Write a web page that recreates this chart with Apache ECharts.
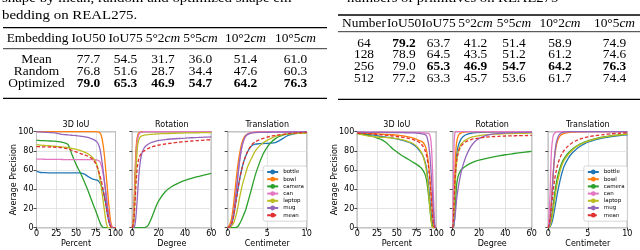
<!DOCTYPE html>
<html><head><meta charset="utf-8">
<script src="https://cdn.jsdelivr.net/npm/echarts@6/dist/echarts.min.js"></script>
<style>html,body{margin:0;padding:0;background:#fff}#c{width:640px;height:250px}</style>
</head><body><div id="c"></div>
<script>
// ---------- categories / colours ----------
const cats = ['bottle','bowl','camera','can','laptop','mug','mean'];
const catColors = ['#1f77b4','#ff7f0e','#2ca02c','#e377c2','#bcbd22','#9467bd','#e0302f'];

// ---------- tables ----------
const leftCaption1 = 'shape by mean, random and optimized shape em-';
const leftCaption2 = 'bedding on REAL275.';
const rightCaption = 'numbers of primitives on REAL275';
const metricHeads = ['IoU50','IoU75','5°2','5°5','10°2','10°5'];
const metricItalic = ['','','cm','cm','cm','cm'];
const leftRows = ['Mean','Random','Optimized'];
const leftVals = [[77.7,54.5,31.7,36.0,51.4,61.0],[76.8,51.6,28.7,34.4,47.6,60.3],[79.0,65.3,46.9,54.7,64.2,76.3]];
const rightRows = ['64','128','256','512'];
const rightVals = [[79.2,63.7,41.2,51.4,58.9,74.9],[78.9,64.5,43.5,51.2,61.2,74.6],[79.0,65.3,46.9,54.7,64.2,76.3],[77.2,63.3,45.7,53.6,61.7,74.4]];

// ---------- plot ticks ----------
const pctTicks = [0,100,25];
const degTicks = [0,60,20];
const cmTicks = [0,10,5];

// ---------- left figure: 3D IoU ----------
const iouL_x = [0,5,10,15,20,25,30,35,40,45,50,55,60,65,70,74,77,80,82,84,86,88,90,92,94,96,100];
const iouL_bottle = [59,57.5,57.3,57.2,57.2,57.2,57.2,57.2,57.2,57.2,57.2,57,56,53.5,51,50,49.5,47,44,39,32,23,13,5,1,0,0];
const iouL_bowl = [100,100,100,100,100,100,100,100,100,100,100,100,100,100,100,100,99.8,99,96,88,75,57,38,20,6,0.5,0];
const iouL_camera = [91,90.8,90.6,90.4,90.2,90,89.5,88.5,86.5,76,66,58,49,39,28,19.5,13,6,2.5,0.5,0,0,0,0,0,0,0];
const iouL_can = [71.5,71.4,71.3,71.2,71.2,71.1,71.1,71,71,71,71,71,71,71,71,70.8,70.3,69,65,58,48,36,22,10,3,0,0];
const iouL_laptop = [86.5,86,85.7,85.4,85,84.7,84.3,84,83.5,82.5,81.5,80.5,79,77,74,70,64,52,42,30,18,6,0.5,0,0,0,0];
const iouL_mug = [100,99.8,99.5,99.2,99,98.5,97.5,97,96.7,96.3,96,95.5,94.8,94,92.5,91,89,83,74,62,48,33,19,7,1,0,0];
const iouL_mean = [84.5,84.3,84.2,84.1,84,83.8,83.5,83,82,80.5,79,77.5,76,74.5,72,68,63,55,49,41,32,23,13,5,1,0,0];

// ---------- left figure: Rotation ----------
const rotL_x = [0,1,2,3,4,5,6,7,8,9,10,12,14,16,18,20,25,30,35,40,45,50,55,60];
const rotL_bottle = [0,10,45,80,94,98,99.3,99.7,100,100,100,100,100,100,100,100,100,100,100,100,100,100,100,100];
const rotL_bowl = [0,15,55,85,96,99,99.7,100,100,100,100,100,100,100,100,100,100,100,100,100,100,100,100,100];
const rotL_camera = [0,0,0,0,0,0,0,0,0,0,0.3,2.5,8,15,22,28,37.5,43,46.5,49.3,51.5,53.3,55,56.5];
const rotL_can = [0,8,40,75,92,97.5,99,99.5,99.8,100,100,100,100,100,100,100,100,100,100,100,100,100,100,100];
const rotL_laptop = [0,5,30,65,85,92,94.5,95.5,96,96.4,96.7,97,97.2,97.4,97.6,97.8,98,98.3,98.5,98.7,98.8,98.9,99,99];
const rotL_mug = [0,0.5,3,15,35,55,68,76,80.5,83,84.8,87,88.5,89.5,90.3,91,91.8,92.4,92.9,93.3,93.7,94,94.3,94.6];
const rotL_mean = [0,5,25,50,65,72,75.5,77.5,79,80,81,82.5,83.7,84.6,85.3,86,87.2,88.2,89,89.7,90.3,90.8,91.3,91.7];

// ---------- left figure: Translation ----------
const trL_x = [0,0.25,0.5,0.75,1,1.25,1.5,1.75,2,2.25,2.5,3,3.5,4,4.5,5,5.5,6,6.5,7,7.5,8,9,10];
const trL_bottle = [0,1,4,12,25,38,50,60,68,74,79,85,87,87.5,87.7,87.8,88,88.5,90.5,93,95.5,97,98.5,99];
const trL_bowl = [0,3,10,25,45,63,77,87,93,96,97.5,99,99.5,100,100,100,100,100,100,100,100,100,100,100];
const trL_camera = [0,0,0,0,0.2,1,4,8,13,18,25,40,55,67,77,84,89,92.5,95,96.5,97.3,98,98.7,99];
const trL_can = [0,1,4,14,30,50,68,82,90,95,97.5,99,99.5,99.7,99.8,99.9,100,100,100,100,100,100,100,100];
const trL_laptop = [0,0.5,2,5,11,20,31,41,49,56,63,72,80,85,88.5,91,93,95,96.3,97,97.5,97.8,98.2,98.5];
const trL_mug = [0,1,5,15,32,52,70,83,91,95,97,98.5,99,99.2,99.3,99.4,99.5,99.5,99.6,99.6,99.7,99.7,99.8,100];
const trL_mean = [0,1,4,12,25,38,50,60,68,74,79,86,89.5,91.5,93,94.3,95.3,96,96.7,97.3,97.8,98.2,98.8,99.3];

// ---------- right figure: 3D IoU ----------
const iouR_x = [0,5,10,15,20,25,30,35,40,45,50,55,60,65,70,75,80,83,86,88,90,91,92,93,94,95,96,97,98,99,100];
const iouR_bottle = [98.5,98,97.5,97,96.5,96,95,94.5,94,93.3,92.5,91.5,90.5,89,87,84,79,75,68,60,46,37,28,19,11,5,1,0,0,0,0];
const iouR_bowl = [99,98.8,98.5,98.2,98,97.8,97.5,97.2,97,96.8,96.5,96,95.5,94.5,93.5,92,90.5,89,85,79,68,60,50,40,29,18,8,2,0,0,0];
const iouR_camera = [98,97.5,97,96,95,93.5,92,89.5,86,82,79,76,73.5,71,68.5,66,63,60,55,48,35,27,19,11,5,1,0,0,0,0,0];
const iouR_can = [99.5,99.5,99.5,99.5,99.5,99.5,99.5,99.5,99.5,99.5,99.5,99.5,99.4,99.4,99.3,99.2,99,98.8,98.6,98.5,98.2,97.5,96,92,82,65,42,20,5,0.5,0];
const iouR_laptop = [98,97,96.2,95.5,95,94.5,94.2,94,93.7,93.3,92.8,92,91,89.5,88,85,80,75,66,56,40,30,20,11,4,0.5,0,0,0,0,0];
const iouR_mug = [99.5,99.5,99.4,99.4,99.3,99.3,99.2,99.2,99.1,99.1,99,99,98.9,98.8,98.7,98.5,98,97.5,97,95,88,82,74,63,50,36,22,10,2,0,0];
const iouR_mean = [98.5,98.3,98,97.8,97.5,97.2,96.8,96.5,96,95.5,95,94.5,94,93,92,90.5,88,85,80,74,64,57,48,38,27,16,7,2,0,0,0];

// ---------- right figure: Rotation ----------
const rotR_x = [0,0.5,1,1.5,2,2.5,3,4,5,6,7,8,10,12,14,16,18,20,25,30,35,40,45,50,55,60];
const rotR_bottle = [0,4,18,38,55,68,76,84,88.5,91.5,93.5,95,96.8,97.8,98.4,98.8,99,99.2,99.5,99.7,99.8,99.9,100,100,100,100];
const rotR_bowl = [0,5,25,50,70,82,89,95,97.5,98.5,99,99.5,99.8,100,100,100,100,100,100,100,100,100,100,100,100,100];
const rotR_camera = [0,0.5,3,10,22,35,45,53,57,59.5,61,62.3,64.3,66,67.3,68.5,69.5,70.3,72,73.5,74.8,76,77,78,78.8,79.5];
const rotR_can = [0,40,85,97,99.5,100,100,100,100,100,100,100,100,100,100,100,100,100,100,100,100,100,100,100,100,100];
const rotR_laptop = [0,3,15,32,48,60,68,78,83,86,88,89.5,91.5,93,94,94.8,95.4,95.9,96.7,97.2,97.6,97.9,98.1,98.3,98.4,98.5];
const rotR_mug = [0,1,4,9,15,22,30,40,48,55,61,66,74,80,85,88.5,91,93,96,97.5,98.3,98.7,99,99.2,99.3,99.4];
const rotR_mean = [0,8,25,42,55,64,70,77,81.5,84,86,87.5,89.5,90.8,91.8,92.5,93,93.4,94.2,94.8,95.2,95.5,95.7,95.9,96,96.1];

// ---------- right figure: Translation ----------
const trR_x = [0,0.2,0.4,0.6,0.8,1,1.2,1.4,1.6,1.8,2,2.5,3,3.5,4,4.5,5,6,7,8,9,10];
const trR_bottle = [0,1,4,10,19,29,38,46,53,59,64,72,77.5,81.5,84.5,87,89,91.8,93.7,95,96,96.8];
const trR_bowl = [0,8,30,55,74,85,91,94.5,96.5,97.5,98.2,99,99.5,99.7,99.8,99.9,100,100,100,100,100,100];
const trR_camera = [0,2,10,22,35,46,54,60,65,69,72,77.5,81.5,84.5,87,89,90.5,92.8,94.5,95.8,96.8,97.5];
const trR_can = [0,30,80,95,98.5,99.5,100,100,100,100,100,100,100,100,100,100,100,100,100,100,100,100];
const trR_laptop = [0,1.5,7,17,29,40,49,56,62,66.5,70,76,80.5,84,86.5,88.5,90,92.5,94.3,95.7,96.7,97.5];
const trR_mug = [0,5,25,52,75,88,94,97,98.5,99.2,99.6,100,100,100,100,100,100,100,100,100,100,100];
const trR_mean = [0,8,22,37,50,59,66,71,75,78,80.5,85,88.3,90.6,92.3,93.6,94.6,96,97,97.8,98.4,98.9];

// ---------- assemble ----------
const panels = [
  {title:'3D IoU', xname:'Percent', ticks:pctTicks, x:iouL_x, ys:[iouL_bottle,iouL_bowl,iouL_camera,iouL_can,iouL_laptop,iouL_mug,iouL_mean], left:36.5, ylab:true},
  {title:'Rotation', xname:'Degree', ticks:degTicks, x:rotL_x, ys:[rotL_bottle,rotL_bowl,rotL_camera,rotL_can,rotL_laptop,rotL_mug,rotL_mean], left:132.3},
  {title:'Translation', xname:'Centimeter', ticks:cmTicks, x:trL_x, ys:[trL_bottle,trL_bowl,trL_camera,trL_can,trL_laptop,trL_mug,trL_mean], left:227.7, legend:true},
  {title:'3D IoU', xname:'Percent', ticks:pctTicks, x:iouR_x, ys:[iouR_bottle,iouR_bowl,iouR_camera,iouR_can,iouR_laptop,iouR_mug,iouR_mean], left:357.3, ylab:true},
  {title:'Rotation', xname:'Degree', ticks:degTicks, x:rotR_x, ys:[rotR_bottle,rotR_bowl,rotR_camera,rotR_can,rotR_laptop,rotR_mug,rotR_mean], left:452.7},
  {title:'Translation', xname:'Centimeter', ticks:cmTicks, x:trR_x, ys:[trR_bottle,trR_bowl,trR_camera,trR_can,trR_laptop,trR_mug,trR_mean], left:548.3, legend:true}
];
const PW = 79, PT = 131.7, PH = 96;
const sans = 'DejaVu Sans';
const serif = 'Liberation Serif';
const grids = [], xAxes = [], yAxes = [], series = [], legends = [], graphics = [];

panels.forEach((p, i) => {
  grids.push({left:p.left, top:PT, width:PW, height:PH, show:true, borderColor:'#1a1a1a', borderWidth:0.8, backgroundColor:'transparent'});
  xAxes.push({gridIndex:i, type:'value', min:p.ticks[0], max:p.ticks[1], interval:p.ticks[2],
    name:p.xname, nameLocation:'middle', nameGap:12, nameTextStyle:{fontFamily:sans, fontSize:8, color:'#000'},
    axisLine:{show:false}, axisTick:{show:true, length:3, lineStyle:{color:'#1a1a1a', width:0.8}},
    axisLabel:{fontFamily:sans, fontSize:8, color:'#000', margin:2.5, showMinLabel:true, showMaxLabel:true},
    splitLine:{show:true, lineStyle:{color:'#dedede', width:0.8}}});
  yAxes.push({gridIndex:i, type:'value', min:0, max:100, interval:20,
    axisLine:{show:false}, axisTick:{show:true, length:3, lineStyle:{color:'#1a1a1a', width:0.8}},
    axisLabel:{show:!!p.ylab, fontFamily:sans, fontSize:8, color:'#000', margin:3},
    splitLine:{show:true, lineStyle:{color:'#dedede', width:0.8}}});
  cats.forEach((c, k) => {
    series.push({type:'line', name:c, xAxisIndex:i, yAxisIndex:i, symbol:'none', smooth:0.25, clip:true,
      data:p.x.map((xv, j) => [xv, p.ys[k][j]]),
      lineStyle:{color:catColors[k], width:1.3, type: c === 'mean' ? [3.5,2] : 'solid'},
      itemStyle:{color:catColors[k]}, emphasis:{disabled:true}, animation:false});
  });
  graphics.push({type:'text', style:{text:p.title, x:p.left + PW/2, y:125, textAlign:'center', textVerticalAlign:'middle', font:'8px "' + sans + '"', fill:'#000'}});
  if (p.ylab) {
    graphics.push({type:'text', x:p.left - 22.5, y:PT + PH/2, rotation:Math.PI/2,
      style:{text:'Average Precision', x:0, y:0, textAlign:'center', textVerticalAlign:'middle', font:'8px "' + sans + '"', fill:'#000'}});
  }
  if (p.legend) {
    legends.push({data:cats, orient:'vertical', left:p.left + 35.5, top:166, itemWidth:11, itemHeight:6, itemGap:1.2,
      padding:[3,3,3,3], borderColor:'#cccccc', borderWidth:0.8, borderRadius:2, backgroundColor:'rgba(255,255,255,0.85)',
      textStyle:{fontFamily:sans, fontSize:5.5, color:'#000'}, selectedMode:false});
  }
});

// ---------- table drawing ----------
const TFS = 13, TSX = 1.03;   // table font size / horizontal stretch
const CFS = 13.3, CSX = 1.12;  // caption font size / horizontal stretch
function txt(t, x, y, opt, fs, sx) {
  fs = fs || TFS; sx = sx || TSX;
  const o = opt || {};
  graphics.push({type:'text', x:x, y:y, scaleX:sx, style:{text:t, x:0, y:0, textAlign:o.align || 'center', textVerticalAlign:'middle',
    font:(o.bold ? 'bold ' : '') + fs + 'px "' + serif + '"', fill:'#000'}});
}
function rich(h, it, x, y) {
  graphics.push({type:'text', x:x, y:y, scaleX:TSX, style:{text:'{a|' + h + '}' + (it ? '{b|' + it + '}' : ''), x:0, y:0, textAlign:'center', textVerticalAlign:'middle',
    rich:{a:{fontFamily:serif, fontSize:TFS, fill:'#000'}, b:{fontFamily:serif, fontSize:TFS, fontStyle:'italic', fill:'#000'}}}});
}
function rule(x1, x2, y, w) {
  graphics.push({type:'line', shape:{x1:x1, y1:y, x2:x2, y2:y}, style:{stroke:'#000', lineWidth:w}});
}
// left table
txt(leftCaption1, 2, -1.5, {align:'left'}, CFS, CSX);
txt(leftCaption2, 2, 16, {align:'left'}, CFS, CSX);
rule(3, 327, 27.7, 1.3); rule(3, 327, 48.7, 0.8); rule(3, 327, 98.3, 1.3);
const lCols = [88.5, 125.5, 163, 200.5, 245.5, 295.5];
txt('Embedding', 37.5, 38.3);
metricHeads.forEach((h, j) => rich(h, metricItalic[j], lCols[j], 38.3));
const lMax = metricHeads.map((_, j) => Math.max(...leftVals.map(r => r[j])));
leftRows.forEach((r, i) => {
  const y = 60 + i * 11.7;
  txt(r, 36.5, y);
  leftVals[i].forEach((v, j) => txt(v.toFixed(1), lCols[j], y, {bold: v === lMax[j]}));
});
// right table
txt(rightCaption, 347, -1.5, {align:'left'}, CFS, 1.1);
rule(338, 640, 15, 1.3); rule(338, 640, 31.7, 0.8); rule(338, 640, 99.3, 1.3);
const rCols = [404, 438.5, 475.5, 514, 560, 614.5];
txt('Number', 364, 23.3);
metricHeads.forEach((h, j) => rich(h, metricItalic[j], rCols[j], 23.3));
const rMax = metricHeads.map((_, j) => Math.max(...rightVals.map(r => r[j])));
rightRows.forEach((r, i) => {
  const y = 43.3 + i * 11.7;
  txt(r, 364, y);
  rightVals[i].forEach((v, j) => txt(v.toFixed(1), rCols[j], y, {bold: v === rMax[j]}));
});

const chart = echarts.init(document.getElementById('c'), null, {renderer:'canvas'});
chart.setOption({animation:false, grid:grids, xAxis:xAxes, yAxis:yAxes, series:series, legend:legends, graphic:graphics});
</script></body></html>
